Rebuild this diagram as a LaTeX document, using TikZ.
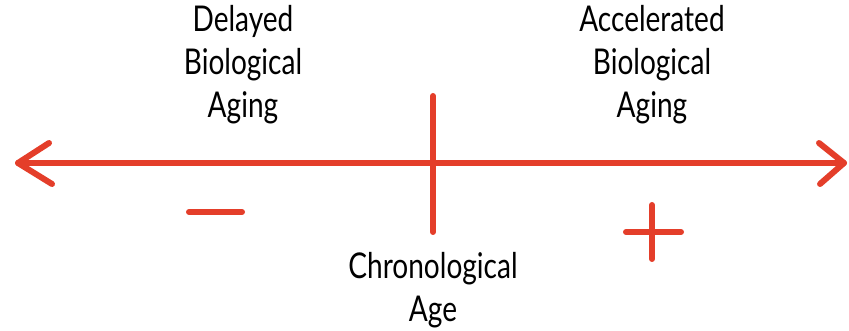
\documentclass[tikz,border=0pt]{standalone}
\usepackage{fontspec}
\setmainfont[FakeStretch=0.79]{Lato}
\definecolor{chalkred}{RGB}{228,62,42}
\tikzset{
  redline/.style={draw=chalkred, line width=6pt, line cap=round, line join=round},
  label/.style={font=\fontsize{35.5}{43}\selectfont, text=black, align=center, inner sep=0pt}
}
\begin{document}
\begin{tikzpicture}[x=1pt,y=-1pt]
\useasboundingbox (0,0) rectangle (849,331);
% axis
\coordinate (L) at (18,163);
\coordinate (R) at (844,163);
\coordinate (Lup) at (49,143);
\coordinate (Ldn) at (52,184);
\coordinate (Rup) at (819,143);
\coordinate (Rdn) at (820,184);
\draw[redline] (L) -- (R);
\draw[redline] (Lup) -- (L) -- (Ldn);
\draw[redline] (Rup) -- (R) -- (Rdn);
% chronological tick
\coordinate (Ttop) at (433,96);
\coordinate (Tbot) at (433,232);
\draw[redline] (Ttop) -- (Tbot);
% minus
\coordinate (M1) at (189,212);
\coordinate (M2) at (242,212);
\draw[redline] (M1) -- (M2);
% plus
\coordinate (P1) at (626,232);
\coordinate (P2) at (681,232);
\coordinate (P3) at (652,205);
\coordinate (P4) at (652,259);
\draw[redline] (P1) -- (P2);
\draw[redline] (P3) -- (P4);
% labels
\node[label, anchor=north] (delayed) at (243,5) {Delayed\\Biological\\Aging};
\node[label, anchor=north] (accel) at (652,5) {Accelerated\\Biological\\Aging};
\node[label, anchor=north] (chrono) at (433,252) {Chronological\\Age};
\end{tikzpicture}
\end{document}
